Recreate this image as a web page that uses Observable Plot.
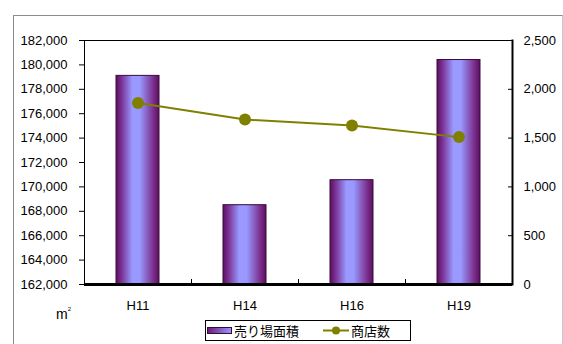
<!DOCTYPE html>
<html>
<head>
<meta charset="utf-8">
<script src="https://cdn.jsdelivr.net/npm/d3@7"></script>
<script src="https://cdn.jsdelivr.net/npm/@observablehq/plot@0.6"></script>
<style>
  body { margin: 0; background: #fff; font-family: Arial, "Liberation Sans", sans-serif; }
  #wrap { position: relative; width: 563px; height: 344px; overflow: hidden; }
  #border { position: absolute; left: 13px; top: 15px; width: 550px; height: 360px;
            border: 1px solid #8c8c8c; border-right-color: #c8c8c8; box-sizing: border-box; }
  #chart { position: absolute; left: 0; top: 0; }
  #unit { position: absolute; left: 56px; top: 306px; font-size: 14px; color: #000; }
  #unit sup { font-size: 6px; vertical-align: 8px; margin-left: 0px; }
  #legend { position: absolute; left: 205px; top: 320px; width: 206px; height: 21px;
            border: 1px solid #000; box-sizing: border-box; background: #fff;
            font-family: "Noto Sans CJK JP", sans-serif; font-size: 13px; color: #000; }
  #legend .item { position: absolute; top: 0; height: 19px; line-height: 19px; white-space: nowrap; }
  #legend svg { position: absolute; top: 0; }
</style>
</head>
<body>
<div id="wrap">
  <div id="border"></div>
  <div id="chart"></div>
  <div id="unit">m<sup>2</sup></div>
  <div id="legend"></div>
</div>
<script>
// Survey years (Heisei), sales floor area (m²) and number of stores
const categories = ["H11", "H14", "H16", "H19"];
const floorArea = [179100, 168500, 170550, 180400];
const storeCount = [1860, 1690, 1630, 1510];
const leftTicks = [162000, 164000, 166000, 168000, 170000, 172000, 174000, 176000, 178000, 180000, 182000];
const rightTicks = [0, 500, 1000, 1500, 2000, 2500];
const seriesNames = ["売り場面積", "商店数"];

const yMin = 162000, yMax = 182000, rightMax = 2500;
// the store count shares the left scale through a linear mapping onto it
const toLeft = v => yMin + v * (yMax - yMin) / rightMax;
const fromLeft = d => Math.round((d - yMin) * rightMax / (yMax - yMin));

const data = categories.map((c, i) => ({cat: c, area: floorArea[i], count: storeCount[i]}));

const width = 563, height = 344;
const marginLeft = 84, marginRight = 51, marginTop = 40, marginBottom = 60;
const step = (width - marginLeft - marginRight) / categories.length;
const fmt = d3.format(",");
const lineColor = "#808000";

const chart = Plot.plot({
  width, height, marginLeft, marginRight, marginTop, marginBottom,
  style: {fontFamily: "Arial, 'Liberation Sans', sans-serif", fontSize: "13px", color: "#000", background: "transparent", overflow: "visible"},
  x: {domain: categories, paddingInner: 0.6, paddingOuter: 0.3},
  y: {domain: [yMin, yMax]},
  marks: [
    Plot.barY(data, {x: "cat", y1: yMin, y2: "area", fill: "url(#barGrad)", stroke: "#3a0a3a", strokeWidth: 1}),
    Plot.frame({stroke: "#000", strokeWidth: 1}),
    Plot.frame({anchor: "right", stroke: "#000", strokeWidth: 2}),
    Plot.ruleY([yMin], {stroke: "#000", strokeWidth: 3}),
    Plot.line(data, {x: "cat", y: d => toLeft(d.count), stroke: lineColor, strokeWidth: 2}),
    Plot.dot(data, {x: "cat", y: d => toLeft(d.count), r: 6, fill: lineColor, stroke: "none"}),
    Plot.axisY({ticks: leftTicks, tickFormat: fmt, tickSize: 5, tickPadding: 12, label: null}),
    Plot.axisY({anchor: "right", ticks: rightTicks.map(toLeft), tickFormat: d => fmt(fromLeft(d)),
                tickSize: 5, insetRight: 5, tickPadding: 11, label: null}),
    Plot.axisX({tickSize: 0, tickPadding: 16, label: null}),
    // category separators on the bottom axis, pointing inward
    Plot.axisX({ticks: categories.slice(1), tickFormat: () => "", tickSize: 5, insetBottom: 5, dx: -step / 2, label: null})
  ]
});

const ns = "http://www.w3.org/2000/svg";
const defs = document.createElementNS(ns, "defs");
defs.innerHTML = `
  <linearGradient id="barGrad" x1="0" x2="1" y1="0" y2="0">
    <stop offset="0" stop-color="#5a1060"/>
    <stop offset="0.12" stop-color="#7a2e90"/>
    <stop offset="0.38" stop-color="#9999ff"/>
    <stop offset="0.55" stop-color="#9999ff"/>
    <stop offset="0.88" stop-color="#7a2a88"/>
    <stop offset="1" stop-color="#5a1060"/>
  </linearGradient>
  <linearGradient id="legGrad" x1="0" x2="1" y1="0" y2="0">
    <stop offset="0" stop-color="#6a1a78"/>
    <stop offset="1" stop-color="#9999ff"/>
  </linearGradient>`;
chart.insertBefore(defs, chart.firstChild);
document.getElementById("chart").appendChild(chart);

// legend
const legend = document.getElementById("legend");
legend.innerHTML = `
  <svg width="26" height="19" style="left:1px"><rect x="0.5" y="6.5" width="24" height="6" fill="url(#legGrad)" stroke="#3a0a3a"/></svg>
  <div class="item" style="left:28px">${seriesNames[0]}</div>
  <svg width="26" height="19" style="left:117px"><line x1="0" x2="26" y1="9.5" y2="9.5" stroke="${lineColor}" stroke-width="2"/><circle cx="13" cy="9.5" r="4" fill="${lineColor}"/></svg>
  <div class="item" style="left:145px">${seriesNames[1]}</div>`;
</script>
</body>
</html>
